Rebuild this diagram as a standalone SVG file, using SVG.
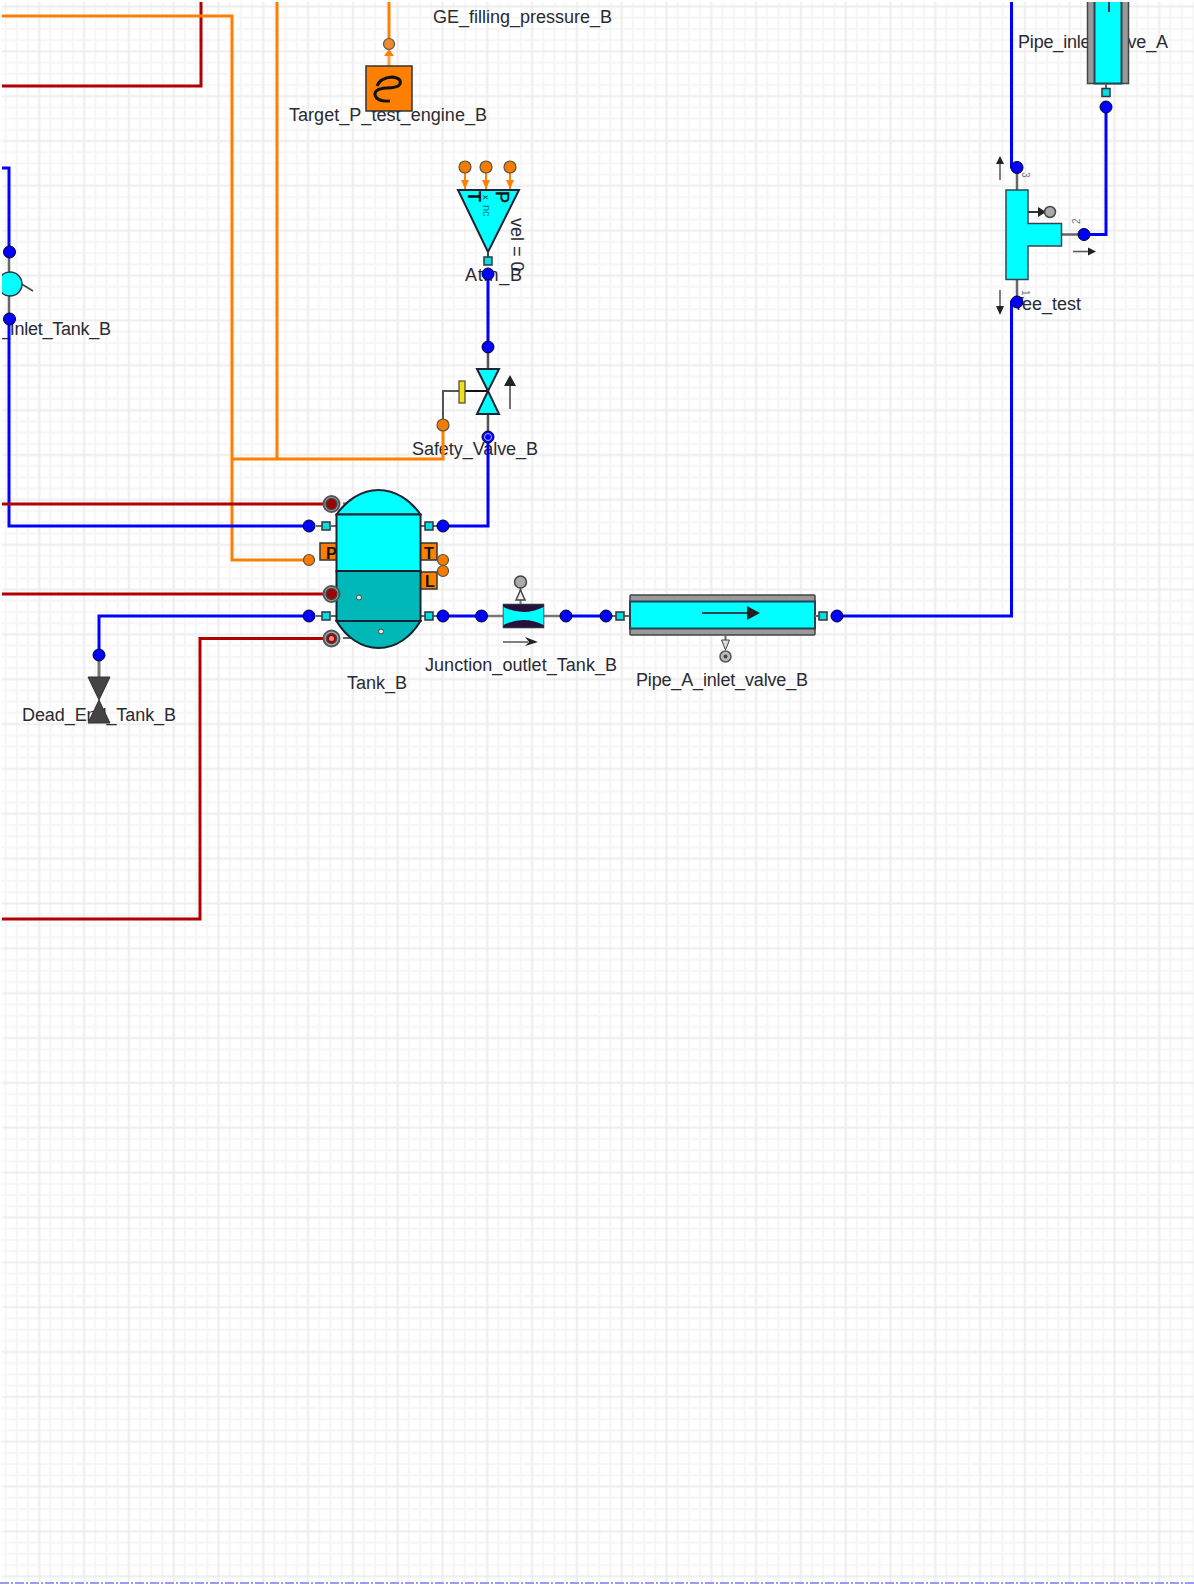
<svg xmlns="http://www.w3.org/2000/svg" width="1194" height="1584" viewBox="0 0 1194 1584">
<style>
text{font-family:"Liberation Sans",Arial,sans-serif;font-size:18px;fill:#2a2a33}
.b{font-weight:bold;font-size:16px;fill:#111}
.w{fill:none;stroke-linejoin:miter}
.blue{stroke:#0000ff;stroke-width:3}
.red{stroke:#b00000;stroke-width:3}
.or{stroke:#ff8000;stroke-width:3}
.db{fill:#0000ff;stroke:#002;stroke-width:1}
.dr{fill:#a00000;stroke:#444;stroke-width:1.5}
.ro{fill:#aaa;stroke:#555;stroke-width:2}
.do{fill:#f57c00;stroke:#554;stroke-width:1.2}
.dg{fill:#aaa;stroke:#444;stroke-width:1.5}
.sq{fill:#00e0e0;stroke:#334;stroke-width:1.5}
.cy{fill:#00ffff;stroke:#223;stroke-width:2}
.te{fill:#00b8b8;stroke:#123;stroke-width:2}
.ob{fill:#ff8000;stroke:#333;stroke-width:1.5}
.pg{fill:#999;stroke:#444;stroke-width:1.5}
.ah{fill:#222;stroke:none}
.wd{fill:#eee;stroke:#444;stroke-width:1}
</style>
<defs>
<pattern id="grid" patternUnits="userSpaceOnUse" x="33.7" y="1" width="44.8" height="44.85">
<rect width="44.8" height="44.85" fill="#fff"/>
<path d="M16.8 0V44.85M28 0V44.85M39.2 0V44.85M0 16.8H44.8M0 28H44.8M0 39.2H44.8" stroke="#f6f6f6" stroke-width="2" fill="none"/>
<path d="M5.6 0V44.85M0 5.6H44.8" stroke="#ededed" stroke-width="2" fill="none"/>
</pattern>
<clipPath id="page"><rect x="2" y="2" width="1192" height="1582"/></clipPath>
</defs>
<rect width="1194" height="1584" fill="#fff"/>
<rect x="2" y="2" width="1192" height="1580" fill="url(#grid)"/>
<path d="M0 1583H1194" stroke="#9a9aee" stroke-width="2" stroke-dasharray="9 2 2 2"/>
<g clip-path="url(#page)">
<g id="labels">
<text x="433" y="23">GE_filling_pressure_B</text>
<text x="289" y="121" textLength="198">Target_P_test_engine_B</text>
<text x="465" y="281" textLength="57">Atm_B</text>
<text x="412" y="455" textLength="126">Safety_Valve_B</text>
<text x="347" y="689">Tank_B</text>
<text x="425" y="671" textLength="192">Junction_outlet_Tank_B</text>
<text x="636" y="686" textLength="172">Pipe_A_inlet_valve_B</text>
<text x="22" y="721" textLength="154">Dead_End_Tank_B</text>
<text x="1018" y="48" textLength="150">Pipe_inlet_valve_A</text>
<text x="1013" y="310">Tee_test</text>
<text x="0" y="335" textLength="111">_Inlet_Tank_B</text>
</g>
<g id="connectors">
<path class="w red" d="M0 86H201V0"/>
<path class="w or" d="M0 16H232V560H309"/>
<path class="w or" d="M277 0V459"/>
<path class="w or" d="M232 459H443V425"/>
<path class="w or" d="M389 0V44"/>
<path class="w blue" d="M0 168H9V252"/>
<path class="w blue" d="M9 319V526H309"/>
<path class="w red" d="M0 504H331"/>
<path class="w red" d="M0 594H331"/>
<path class="w blue" d="M99 655V616H309"/>
<path class="w red" d="M0 919H200V638.500H331"/>
<path class="w blue" d="M443 526H488V437"/>
<path class="w blue" d="M488 274V347"/>
<path class="w blue" d="M443 616H481"/>
<path class="w blue" d="M566 616H606"/>
<path class="w blue" d="M837 616H1011.500V302H1017"/>
<path class="w blue" d="M1011.500 0V167H1017"/>
<path class="w blue" d="M1084 234.500H1106V107"/>
</g>
<g id="Target_P_test_engine_B">
<path d="M389 66V54" stroke="#ffa040" stroke-width="3"/>
<path d="M384 56L389 49L394 56z" fill="#ff8000"/>
<circle cx="389" cy="44" r="5.500" fill="#f08a30" stroke="#554" stroke-width="1.200"/>
<rect class="ob" x="366" y="66" width="46" height="45"/>
<path d="M377 86Q380 78 392 77Q402 78 400 84Q398 88 386 88Q374 89 375 95Q377 102 390 101" fill="none" stroke="#111" stroke-width="3"/>
</g>
<g id="Atm_B">
<path d="M465 173V189M486 173V189M510 173V189" stroke="#ff8000" stroke-width="2"/>
<path d="M461 180L465 189L469 180zM482 180L486 189L490 180zM506 180L510 189L514 180z" fill="#ff8000"/>
<circle class="do" cx="465" cy="167" r="6"/><circle class="do" cx="486" cy="167" r="6"/><circle class="do" cx="510" cy="167" r="6"/>
<path class="cy" d="M458 190H519L488 252z" stroke-width="1.500"/>
<path d="M488 252V257" stroke="#444" stroke-width="2"/>
<text class="b" transform="translate(496 191) rotate(90)" style="font-size:18px;font-weight:normal;stroke:#111;stroke-width:.5">P</text>
<text class="b" transform="translate(468 191) rotate(90)" style="font-size:18px">T</text>
<text transform="translate(483 195) rotate(90)" style="font-size:9px">x</text>
<text transform="translate(483 205) rotate(90)" style="font-size:11px;fill:#007a7a">nc</text>
<text transform="translate(510.500 218) rotate(90)">vel = 0</text>
<rect class="sq" x="484" y="257" width="8" height="8"/>
<circle class="db" cx="488" cy="274" r="6"/>
</g>
<g id="Safety_Valve_B">
<path d="M488 350V369M488 414V437" stroke="#555" stroke-width="2.500"/>
<path d="M459 391H443V425" fill="none" stroke="#555" stroke-width="2"/>
<path d="M465 391H488" stroke="#111" stroke-width="2"/>
<path class="cy" d="M477 369H499L488 391L499 414H477L488 391z" stroke-width="1.500"/>
<rect x="459" y="381" width="6" height="22" fill="#f0e020" stroke="#443" stroke-width="1.200"/>
<path d="M510 409V386" stroke="#444" stroke-width="1.500"/>
<path class="ah" d="M504 386L510 375L516 386z"/>
<circle class="do" cx="443" cy="425" r="6"/>
<circle class="db" cx="488" cy="347" r="6"/>
<circle class="db" cx="488" cy="437" r="6"/>
<circle cx="488" cy="437" r="3.500" fill="none" stroke="#b0b0ff" stroke-width="1"/>
</g>
<g id="Tank_B">
<path class="ob" d="M320 543H338V560H320z"/>
<text class="b" x="326" y="559">P</text>
<path class="ob" d="M419 543H437V560H419z"/>
<path class="ob" d="M419 572H437V589H419z"/>
<text class="b" x="424" y="559">T</text>
<text class="b" x="425" y="587">L</text>
<path d="M316 526H322M316 616H322M331 526H336M331 616H336M421 526H425M421 616H425M433 526H438M433 616H438M343 503.500H350M343 638H352" stroke="#666" stroke-width="2"/>
<path class="cy" d="M336.500 514.500C346 501 361 490 378.500 490C396 490 411 501 420.500 514.500z"/>
<rect class="cy" x="336.500" y="514.500" width="84" height="57"/>
<rect class="te" x="336.500" y="571" width="84" height="50"/>
<path class="te" d="M336.500 621C346 637 361 648 378.500 648C396 648 411 637 420.500 621z"/>
<circle cx="359" cy="597.500" r="2.500" class="wd"/>
<circle cx="381" cy="631.500" r="2.500" class="wd"/>
<rect class="sq" x="322" y="522" width="8" height="8"/><rect class="sq" x="425" y="522" width="8" height="8"/>
<rect class="sq" x="322" y="612" width="8" height="8"/><rect class="sq" x="425" y="612" width="8" height="8"/>
<circle class="db" cx="309" cy="526" r="6"/><circle class="db" cx="443" cy="526" r="6"/>
<circle class="db" cx="309" cy="616" r="6"/><circle class="db" cx="443" cy="616" r="6"/>
<circle class="do" cx="443" cy="560" r="5.500"/><circle class="do" cx="443" cy="571" r="5.500"/><circle class="do" cx="309" cy="560" r="5.500"/>
<circle class="ro" cx="331.500" cy="504" r="8"/><circle class="dr" cx="331.500" cy="504" r="5.500"/>
<circle class="ro" cx="331.500" cy="594" r="8"/><circle class="dr" cx="331.500" cy="594" r="5.500"/>
<circle class="ro" cx="331.500" cy="638.500" r="8"/><circle class="dr" cx="331.500" cy="638.500" r="5"/><circle cx="331.500" cy="638.500" r="2.500" fill="#e88"/>
</g>
<g id="Junction_outlet_Tank_B">
<path d="M481 616H503M543 616H566" stroke="#777" stroke-width="2.500"/>
<path d="M520.500 604V588" stroke="#777" stroke-width="2"/>
<path d="M516 600L520.500 590L525 600z" fill="#eee" stroke="#444" stroke-width="1.500"/>
<circle class="dg" cx="520.500" cy="582" r="6"/>
<rect x="503.500" y="604.500" width="40" height="23" fill="#2a0f3a" stroke="#234" stroke-width="1.500"/>
<path d="M503.500 607Q523.500 617 543.500 607V625Q523.500 615 503.500 625z" fill="#00ffff"/>
<path d="M503 642H528" stroke="#555" stroke-width="1.500"/>
<path class="ah" d="M525 637L538 642L525 646L529 642z"/>
<circle class="db" cx="481.500" cy="616" r="6"/><circle class="db" cx="566" cy="616" r="6"/>
</g>
<g id="Pipe_A_inlet_valve_B">
<path d="M610 616H616M624 616H630" stroke="#666" stroke-width="2"/>
<rect class="sq" x="616" y="612" width="8" height="8"/>
<circle class="db" cx="606" cy="616" r="6"/>
<rect class="pg" x="630" y="595" width="185" height="40" rx="1"/>
<rect x="630" y="601.500" width="185" height="27" fill="#00ffff" stroke="#245" stroke-width="2"/>
<path d="M702 613H750" stroke="#345" stroke-width="2"/>
<path class="ah" d="M747 606L760 613L747 620z"/>
<path d="M725.500 635V648" stroke="#666" stroke-width="2"/>
<path d="M721.500 640H729.500L725.500 650z" fill="#ddd" stroke="#444"/>
<circle cx="725.500" cy="656.500" r="5.500" fill="#bbb" stroke="#555" stroke-width="1.500"/>
<circle cx="725.500" cy="656.500" r="2" fill="#444"/>
<path d="M815 616H819" stroke="#666" stroke-width="2"/>
<rect class="sq" x="819" y="612" width="8" height="8"/>
<circle class="db" cx="837" cy="616" r="6"/>
</g>
<g id="Tee_test">
<path d="M1017 167V190M1017 279V302M1061 234.500H1084" stroke="#666" stroke-width="2.500"/>
<path d="M1028 212H1040" stroke="#333" stroke-width="2"/>
<path class="ah" d="M1038 207L1046 212L1038 217z"/>
<circle class="dg" cx="1050" cy="212" r="5.500"/>
<path d="M1006 190H1028V223.500H1061.500V246H1028V279.500H1006z" fill="#00ffff" stroke="#345" stroke-width="1.500"/>
<path d="M1000 180V162M1000 290V308M1073 251.500H1090" stroke="#555" stroke-width="1.500"/>
<path class="ah" d="M996 164L1000 156L1004 164zM996 306L1000 315L1004 306zM1088 247.500L1096 251.500L1088 255.500z"/>
<text transform="translate(1022 172) rotate(90)" style="font-size:10px;fill:#777">3</text>
<text transform="translate(1080 224) rotate(-90)" style="font-size:10px;fill:#777">2</text>
<text transform="translate(1022 290) rotate(90)" style="font-size:10px;fill:#777">1</text>
<circle class="db" cx="1017" cy="167.500" r="6"/>
<circle class="db" cx="1017" cy="302" r="6"/>
<circle class="db" cx="1084" cy="234.500" r="6"/>
</g>
<g id="Pipe_inlet_valve_A">
<rect class="pg" x="1087.500" y="-5" width="41" height="88.500"/>
<rect x="1094.500" y="-5" width="27" height="88.500" fill="#00ffff" stroke="#245" stroke-width="2"/>
<path d="M1109 0V12" stroke="#345" stroke-width="2"/>
<path d="M1106 84V88" stroke="#666" stroke-width="2"/>
<rect class="sq" x="1102" y="88.500" width="8" height="8"/>
<circle class="db" cx="1106" cy="107" r="6"/>
</g>
<g id="Inlet_Tank_B">
<path d="M9 252V272M9 296V319" stroke="#666" stroke-width="2.500"/>
<path d="M20 283L33 291" stroke="#444" stroke-width="1.500"/>
<circle cx="10" cy="284" r="12" fill="#00ffff" stroke="#334" stroke-width="1.500"/>
<circle class="db" cx="9.500" cy="252" r="6"/>
<circle class="db" cx="9.500" cy="319" r="6"/>
</g>
<g id="Dead_End_Tank_B">
<path d="M99 655V677" stroke="#777" stroke-width="3"/>
<path d="M88 677H110L99 700L110 723H88L99 700z" fill="#444" stroke="#333"/>
<circle class="db" cx="99" cy="655" r="6"/>
</g>
</g>
</svg>
